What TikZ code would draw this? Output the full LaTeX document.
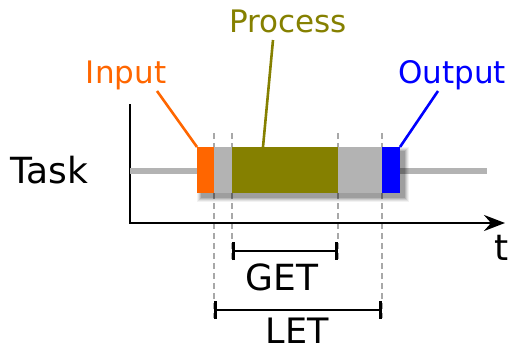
\documentclass[tikz,border=0pt]{standalone}
\usepackage{fontspec}
\setmainfont{DejaVu Sans}
\usetikzlibrary{arrows.meta}
\definecolor{inorange}{HTML}{FF6600}
\definecolor{procolive}{HTML}{858000}
\definecolor{outblue}{HTML}{0000FF}
\definecolor{idlegray}{HTML}{B3B3B3}
\definecolor{guidegray}{HTML}{A8A8A8}
\begin{document}
\begin{tikzpicture}[x=1pt,y=-1pt,
  seg/.style={rectangle,inner sep=0pt,outer sep=0pt,minimum height=46pt},
  biglbl/.style={font=\fontsize{36}{40}\selectfont,inner sep=0pt,anchor=base},
  tag/.style={font=\fontsize{31}{36}\selectfont,inner sep=0pt,anchor=base},
  guide/.style={guidegray,line width=1.4pt,dash pattern=on 6pt off 4pt},
  leader/.style={line width=2.6pt},
  axis/.style={line width=2.7pt,black},
  span/.style={line width=2.7pt,black,{Bar[width=18pt]}-{Bar[width=18pt]}}]
\useasboundingbox (0,0) rectangle (510,351);

% time guides
\coordinate (g1t) at (214,133); \coordinate (g1b) at (214,318);
\coordinate (g2t) at (232,133); \coordinate (g2b) at (232,260);
\coordinate (g3t) at (338,133); \coordinate (g3b) at (338,260);
\coordinate (g4t) at (382,133); \coordinate (g4b) at (382,318);
\draw[guide] (g1t) -- (g1b);
\draw[guide] (g2t) -- (g2b);
\draw[guide] (g3t) -- (g3b);
\draw[guide] (g4t) -- (g4b);

% axes
\coordinate (origin) at (130,223);
\coordinate (ytop) at (130,105);
\coordinate (xend) at (505,223);
\draw[axis,line cap=rect] (ytop) -- (origin);
\draw[axis,-{Stealth[length=21pt,width=16pt,inset=7pt]}] (origin) -- (xend);
\node[biglbl] (tlbl) at (502,260) {t};

% idle line of the task
\coordinate (idleA) at (130,170.5);
\coordinate (idleB) at (487,170.5);
\draw[idlegray,line width=6pt] (idleA) -- (idleB);

% soft shadow under the segments
\foreach \g/\o in {4/0.05,3/0.07,2/0.09,1/0.11,0/0.13}
  \fill[black,opacity=\o] (201-\g,151-\g) rectangle (405+\g,198+\g);

% task segments
\node[seg,fill=inorange,minimum width=17pt]  (inbox)  at (205.5,170) {};
\node[seg,fill=idlegray,minimum width=18pt]  (wait1)  at (223,170) {};
\node[seg,fill=procolive,minimum width=106pt] (probox) at (285,170) {};
\node[seg,fill=idlegray,minimum width=44pt]  (wait2)  at (360,170) {};
\node[seg,fill=outblue,minimum width=18pt]   (outbox) at (391,170) {};

\node[biglbl,anchor=base west] (task) at (10,183) {Task};

% labels and leaders
\node[tag,text=inorange] (inlbl) at (126,83) {Input};
\node[tag,text=procolive] (prolbl) at (288,32) {Process};
\node[tag,text=outblue] (outlbl) at (452,83) {Output};
\coordinate (inlead) at (157,91);
\coordinate (prolead) at (273,40);
\coordinate (outlead) at (438,91);
\coordinate (profoot) at (263,147);
\draw[leader,inorange] (inlead) -- (inbox.north west);
\draw[leader,procolive] (prolead) -- (profoot);
\draw[leader,outblue] (outlead) -- (outbox.north east);

% latency spans
\coordinate (getA) at (232,251); \coordinate (getB) at (338,251);
\coordinate (letA) at (214,310); \coordinate (letB) at (382,310);
\draw[span] (getA) -- (getB);
\draw[span] (letA) -- (letB);
\node[biglbl] (getlbl) at (282,290) {GET};
\node[biglbl,font=\fontsize{35}{38}\selectfont] (letlbl) at (297,343) {LET};
\end{tikzpicture}
\end{document}
